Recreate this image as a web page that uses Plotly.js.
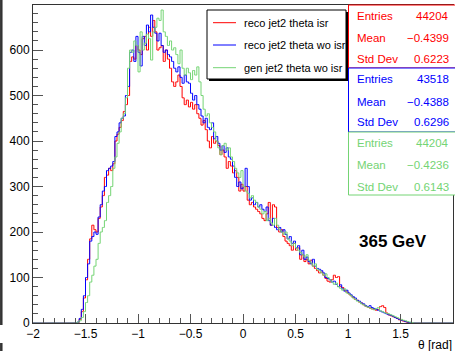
<!DOCTYPE html>
<html>
<head>
<meta charset="utf-8">
<script src="https://cdn.plot.ly/plotly-3.0.1.min.js"></script>
<style>html,body{margin:0;padding:0;background:#fff;}#chart{width:455px;height:351px;}</style>
</head>
<body>
<div id="chart"></div>
<script>
// Histogram settings: 200 bins from -2 to 2; arrays start at bin centred on -1.59
var binLow = -2, binWidth = 0.02, nBins = 200, firstCenter = -1.59;

var recoIsr = [
  0,1,8,25,55,95,140,185,215,205,
  200,230,255,280,320,325,340,335,350,400,
  415,430,445,465,480,500,575,585,580,610,
  600,590,625,630,600,650,630,665,640,600,
  605,610,575,600,580,560,530,520,530,545,
  520,495,480,490,475,485,470,480,460,450,
  435,445,425,400,385,410,395,400,390,370,
  380,365,340,355,345,330,335,320,290,305,
  290,300,270,260,265,255,250,245,240,230,
  225,240,265,215,260,255,210,200,205,190,
  180,175,170,160,175,160,165,140,150,135,
  140,130,138,125,120,115,110,112,105,98,
  92,90,95,105,100,102,80,78,72,68,
  64,60,56,52,50,46,44,40,37,35,
  33,31,30,28,30,36,38,34,22,18,
  16,14,12,10,7,6,4,3,1,1,
  0
];
var recoWoIsr = [
  0,2,10,30,60,100,130,180,190,200,
  195,233,260,290,300,335,340,345,355,410,
  420,440,450,455,500,520,595,600,575,630,
  595,565,630,610,655,640,677,650,637,620,
  637,610,595,600,590,585,575,560,552,563,
  540,527,545,530,527,505,490,500,480,470,
  455,440,450,430,425,440,405,410,395,380,
  390,375,385,365,360,345,320,300,310,295,
  300,340,300,270,275,260,265,255,260,250,
  245,255,225,215,230,210,205,210,200,205,
  195,185,190,175,180,165,170,150,160,140,
  145,135,130,140,125,120,118,115,110,100,
  98,95,90,92,85,80,84,75,70,72,
  66,62,58,55,50,48,44,42,38,36,
  38,34,32,30,28,26,24,22,20,18,
  17,15,12,10,8,6,5,3,2,1,
  0
];
var genWoIsr = [
  0,2,5,12,25,45,60,90,105,125,
  140,175,200,210,225,265,280,300,340,365,
  395,420,450,460,495,560,600,595,620,610,
  552,640,600,615,635,625,578,640,650,670,
  665,688,640,630,610,620,600,605,590,570,
  600,560,545,560,550,535,555,545,563,530,
  500,470,455,460,440,430,420,400,385,370,
  390,395,380,385,365,355,340,330,320,335,
  300,290,285,275,280,270,265,255,250,240,
  245,225,230,220,215,230,215,205,200,195,
  200,185,180,170,175,165,160,155,150,145,
  150,138,132,125,130,118,115,110,105,108,
  100,95,90,85,88,80,76,72,75,66,
  64,60,55,52,48,46,42,40,37,35,
  33,31,29,32,34,27,25,23,21,20,
  18,16,14,12,10,8,6,5,3,2,
  1
];

var seriesNames = ["reco jet2 theta isr", "reco jet2 theta wo isr", "gen jet2 theta wo isr"];
var seriesColors = ["#ff0000", "#0000ff", "#74d474"];
var statLabels = ["Entries", "Mean", "Std Dev"];
var statValues = [
  ["44204", "\u22120.4399", "0.6223"],
  ["43518", "\u22120.4388", "0.6296"],
  ["44204", "\u22120.4236", "0.6143"]
];
var energyLabel = "365 GeV";
var xTitle = "\u03b8 [rad]";

function buildHist(counts) {
  var offset = Math.round((firstCenter - binWidth / 2 - binLow) / binWidth);
  var xs = [binLow], ys = [0];
  for (var k = 0; k < nBins; k++) {
    var c = binLow + (k + 0.5) * binWidth;
    var idx = k - offset;
    var v = (idx >= 0 && idx < counts.length) ? counts[idx] : 0;
    xs.push(c); ys.push(v);
  }
  xs.push(binLow + nBins * binWidth); ys.push(0);
  return {x: xs, y: ys};
}

var allCounts = [recoIsr, recoWoIsr, genWoIsr];
var traces = allCounts.map(function (cnt, i) {
  var h = buildHist(cnt);
  return {
    type: "scatter", mode: "lines", x: h.x, y: h.y, name: seriesNames[i],
    line: {shape: "hvh", color: seriesColors[i], width: 1},
    showlegend: false, hoverinfo: "skip"
  };
});

// pixel -> paper helpers (plot area: x 33..453, y 5..323)
var L = 33, R = 2, T = 5, B = 28, W = 455, H = 351;
var pw = W - L - R, ph = H - T - B;
function px(x) { return (x - L) / pw; }
function py(y) { return (H - B - y) / ph; }

var font = "'Liberation Sans', Arial, Helvetica, sans-serif";
var shapes = [], annotations = [];

// outer pad edge line
shapes.push({type: "line", xref: "paper", yref: "paper", x0: px(1.3), x1: px(1.3), y0: py(0), y1: py(325), line: {color: "#333", width: 2.5}});
shapes.push({type: "line", xref: "paper", yref: "paper", x0: px(1.3), x1: px(1.3), y0: py(343), y1: py(351), line: {color: "#333", width: 2.5}});

// legend box with shadow
shapes.push({type: "rect", xref: "paper", yref: "paper", x0: px(209), x1: px(348), y0: py(12), y1: py(81), fillcolor: "#000", line: {width: 0}});
shapes.push({type: "rect", xref: "paper", yref: "paper", x0: px(207), x1: px(346), y0: py(10), y1: py(79), fillcolor: "#fff", line: {color: "#000", width: 1}});
var legRows = [22.7, 45, 67.7];
for (var i = 0; i < 3; i++) {
  shapes.push({type: "line", xref: "paper", yref: "paper", x0: px(213), x1: px(236), y0: py(legRows[i]), y1: py(legRows[i]), line: {color: seriesColors[i], width: 1}});
  annotations.push({xref: "paper", yref: "paper", x: px(241.5), y: py(legRows[i]), xanchor: "left", yanchor: "middle", showarrow: false, text: seriesNames[i], font: {family: font, size: 11, color: "#000"}});
}

// stats boxes
var boxTops = [5, 68, 132], boxBottoms = [68, 132, 195];
var rowY = [[16, 37.7, 59], [79.3, 101.7, 122.3], [143.3, 165, 186.7]];
for (var s = 0; s < 3; s++) {
  shapes.push({type: "rect", xref: "paper", yref: "paper", x0: px(348.5), x1: px(456), y0: py(boxTops[s]), y1: py(boxBottoms[s]), fillcolor: "#fff", line: {color: seriesColors[s], width: 1}});
  for (var r = 0; r < 3; r++) {
    annotations.push({xref: "paper", yref: "paper", x: px(354.5), y: py(rowY[s][r]), xanchor: "left", yanchor: "middle", showarrow: false, text: statLabels[r], font: {family: font, size: 11.5, color: seriesColors[s]}});
    annotations.push({xref: "paper", yref: "paper", x: px(450.5), y: py(rowY[s][r]), xanchor: "right", yanchor: "middle", showarrow: false, text: statValues[s][r], font: {family: font, size: 11.5, color: seriesColors[s]}});
  }
}

annotations.push({xref: "paper", yref: "paper", x: px(392.5), y: py(242), xanchor: "center", yanchor: "middle", showarrow: false, text: "<b>" + energyLabel + "</b>", font: {family: font, size: 17, color: "#000"}});
annotations.push({xref: "paper", yref: "paper", x: px(454), y: py(345), xanchor: "right", yanchor: "middle", showarrow: false, text: xTitle, font: {family: font, size: 12, color: "#000"}});

var axisCommon = {
  showgrid: false, zeroline: false, showline: true, linecolor: "#333", linewidth: 1, mirror: true,
  ticks: "inside", tickcolor: "#555", tickwidth: 1,
  tickfont: {family: font, size: 12, color: "#000"}
};

var layout = {
  width: W, height: H,
  margin: {l: L, r: R, t: T, b: B, pad: 0},
  paper_bgcolor: "#fff", plot_bgcolor: "#fff",
  showlegend: false,
  xaxis: Object.assign({}, axisCommon, {
    range: [-2, 2], tick0: -2, dtick: 0.5, ticklen: 9,
    minor: {tick0: -2, dtick: 0.1, ticks: "inside", ticklen: 5, tickcolor: "#555", tickwidth: 1, showgrid: false}
  }),
  yaxis: Object.assign({}, axisCommon, {
    range: [0, 699], tick0: 0, dtick: 100, ticklen: 10,
    minor: {tick0: 0, dtick: 20, ticks: "inside", ticklen: 5, tickcolor: "#555", tickwidth: 1, showgrid: false}
  }),
  shapes: shapes,
  annotations: annotations
};

Plotly.newPlot("chart", traces, layout, {staticPlot: true, displayModeBar: false});
</script>
</body>
</html>
